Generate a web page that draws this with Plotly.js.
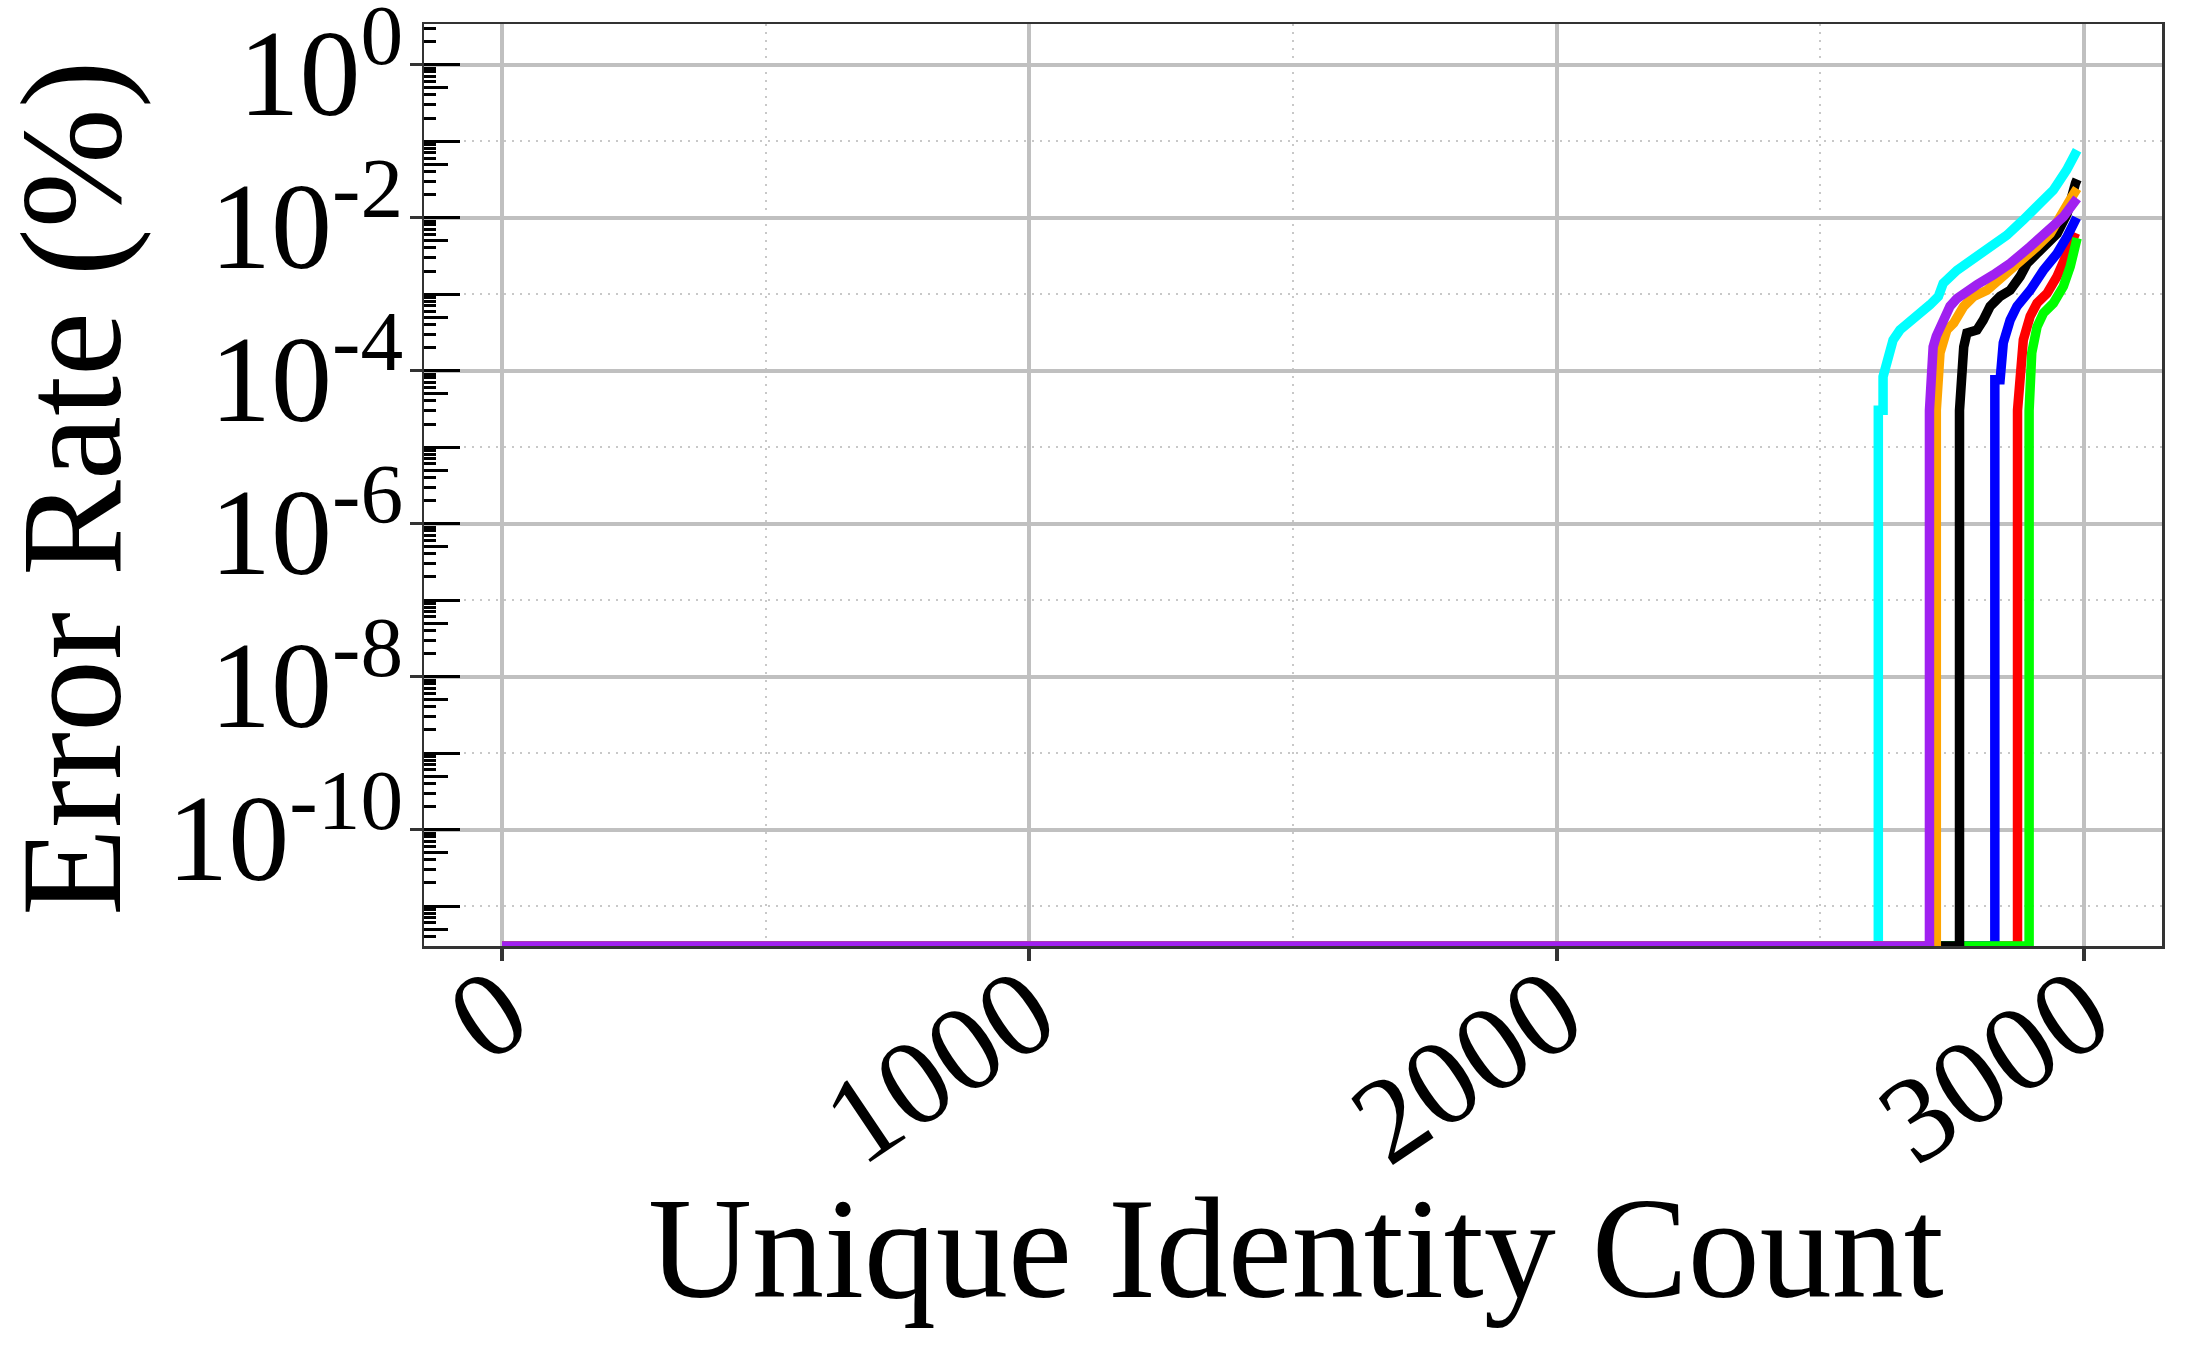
<!DOCTYPE html>
<html>
<head>
<meta charset="utf-8">
<script src="https://cdn.plot.ly/plotly-3.0.1.min.js"></script>
<style>html,body{margin:0;padding:0;background:#fff;}#chart{width:2187px;height:1350px;}</style>
</head>
<body>
<div id="chart"></div>
<script>
// Floor value used for identities with zero error (drawn at the bottom of the log axis)
const FLOOR = 3.0e-12;

const cyanX   = [0, 2610, 2610, 2619, 2619, 2626, 2638, 2651, 2668, 2683, 2708, 2724, 2733, 2759, 2797, 2822, 2854, 2885, 2917, 2942, 2967, 2987];
const cyanY   = [FLOOR, FLOOR, 3.02e-5, 3.02e-5, 8.3e-5, 1.26e-4, 2.51e-4, 3.39e-4, 4.17e-4, 5.13e-4, 7.24e-4, 9.33e-4, 1.38e-3, 2.04e-3, 3.09e-3, 4.17e-3, 5.89e-3, 9.33e-3, 0.0155, 0.0229, 0.0417, 0.0759];

const redX    = [0, 2874, 2874, 2879, 2885, 2898, 2911, 2930, 2949, 2968, 2980, 2984];
const redY    = [FLOOR, FLOOR, 3.02e-5, 1.38e-4, 2.51e-4, 5.13e-4, 7.59e-4, 1.02e-3, 1.70e-3, 3.39e-3, 5.62e-3, 6.31e-3];

const blueX   = [0, 2831, 2831, 2841, 2847, 2860, 2873, 2898, 2923, 2949, 2968, 2980, 2986];
const blueY   = [FLOOR, FLOOR, 7.59e-5, 7.59e-5, 2.29e-4, 4.57e-4, 6.92e-4, 1.12e-3, 2.04e-3, 3.39e-3, 5.62e-3, 8.32e-3, 0.0100];

const greenX  = [0, 2896, 2896, 2897, 2901, 2911, 2923, 2942, 2961, 2974, 2983, 2987];
const greenY  = [FLOOR, FLOOR, 3.02e-5, 6.76e-5, 1.70e-4, 3.72e-4, 5.62e-4, 7.59e-4, 1.26e-3, 2.29e-3, 3.80e-3, 5.37e-3];

const blackX  = [0, 2764, 2764, 2766, 2772, 2778, 2797, 2809, 2822, 2841, 2860, 2879, 2892, 2911, 2930, 2949, 2968, 2977, 2984, 2987];
const blackY  = [FLOOR, FLOOR, 3.02e-5, 8.32e-5, 2.04e-4, 3.09e-4, 3.39e-4, 4.57e-4, 6.92e-4, 9.33e-4, 1.12e-3, 1.70e-3, 2.51e-3, 3.39e-3, 4.57e-3, 6.17e-3, 0.0112, 0.0229, 0.0282, 0.0316];

const orangeX = [0, 2720, 2720, 2722, 2727, 2740, 2753, 2772, 2791, 2816, 2847, 2885, 2911, 2936, 2961, 2977, 2987];
const orangeY = [FLOOR, FLOOR, 3.02e-5, 7.59e-5, 1.70e-4, 3.39e-4, 4.17e-4, 6.92e-4, 9.33e-4, 1.12e-3, 1.70e-3, 2.82e-3, 4.17e-3, 6.17e-3, 0.0112, 0.0186, 0.0240];

const purpleX = [0, 2707, 2707, 2710, 2714, 2720, 2727, 2737, 2746, 2759, 2772, 2797, 2828, 2860, 2898, 2936, 2961, 2987];
const purpleY = [FLOOR, FLOOR, 3.02e-5, 7.94e-5, 2.04e-4, 2.82e-4, 3.72e-4, 5.25e-4, 6.92e-4, 8.71e-4, 1.02e-3, 1.32e-3, 1.78e-3, 2.51e-3, 4.17e-3, 6.92e-3, 0.0102, 0.0178];

const xTickVals = [0, 1000, 2000, 3000];
const xMinorVals = [500, 1500, 2500];
const yTickVals = [1, 1e-2, 1e-4, 1e-6, 1e-8, 1e-10];
const yTickText = ['10<sup>0</sup>', '10<sup>-2</sup>', '10<sup>-4</sup>', '10<sup>-6</sup>', '10<sup>-8</sup>', '10<sup>-10</sup>'];
const yMinorGridVals = [1e-1, 1e-3, 1e-5, 1e-7, 1e-9, 1e-11];

const xTitle = 'Unique Identity Count';
const yTitle = 'Error Rate (%)';

const X_RANGE = [-148, 3148];
const Y_RANGE = [Math.log10(FLOOR), 0.53];

// tick mark positions for the inside ticks (decades, 5x, other mantissas)
const decadeTicks = [], fiveTicks = [], otherTicks = [];
for (let k = -12; k <= 0; k++) {
  decadeTicks.push(Math.pow(10, k));
  fiveTicks.push(5 * Math.pow(10, k));
  [2, 3, 4, 6, 7, 8, 9].forEach(m => otherTicks.push(m * Math.pow(10, k)));
}

const series = [
  {x: cyanX, y: cyanY, c: '#00ffff'},
  {x: redX, y: redY, c: '#ff0000'},
  {x: blueX, y: blueY, c: '#0000ff'},
  {x: greenX, y: greenY, c: '#00ff00'},
  {x: blackX, y: blackY, c: '#000000'},
  {x: orangeX, y: orangeY, c: '#ffa500'},
  {x: purpleX, y: purpleY, c: '#a020f0'}
];

const traces = series.map(s => ({
  type: 'scatter', mode: 'lines', x: s.x, y: s.y,
  line: {color: s.c, width: 9.5, shape: 'linear'},
  showlegend: false, hoverinfo: 'skip'
}));
['y2', 'y3', 'y4'].forEach(a => traces.push({type: 'scatter', mode: 'lines', x: [], y: [], yaxis: a, showlegend: false, hoverinfo: 'skip'}));

const FONT = 'Liberation Serif, Times New Roman, serif';

function insideAxis(vals, len) {
  return {
    type: 'log', range: Y_RANGE, autorange: false, overlaying: 'y', anchor: 'x', side: 'left',
    tickmode: 'array', tickvals: vals, ticks: 'inside', ticklen: len, tickwidth: 3, tickcolor: '#000',
    showticklabels: false, showgrid: false, zeroline: false, showline: false
  };
}

const layout = {
  width: 2187, height: 1350,
  paper_bgcolor: '#ffffff', plot_bgcolor: '#ffffff',
  margin: {l: 424, r: 25, t: 24, b: 404},
  font: {family: FONT, color: '#000'},
  showlegend: false,
  xaxis: {
    range: X_RANGE, autorange: false,
    tickmode: 'array', tickvals: xTickVals, ticktext: xTickVals.map(String),
    tickangle: -34, tickfont: {size: 122, family: FONT, color: '#000'},
    ticks: 'outside', ticklen: 12, tickwidth: 4, tickcolor: '#333',
    ticklabeloverflow: 'allow', ticklabelstandoff: -65,
    showgrid: true, gridcolor: '#c0c0c0', gridwidth: 4,
    minor: {tickmode: 'array', tickvals: xMinorVals, showgrid: true, gridcolor: '#c8c8c8', gridwidth: 2, griddash: '2px,6px', ticks: ''},
    showline: true, linecolor: '#333', linewidth: 2.5, mirror: true, zeroline: false
  },
  yaxis: {
    type: 'log', range: Y_RANGE, autorange: false,
    tickmode: 'array', tickvals: yTickVals, ticktext: yTickText,
    tickfont: {size: 122, family: FONT, color: '#000'},
    ticks: 'outside', ticklen: 12, tickwidth: 3, tickcolor: '#333',
    ticklabeloverflow: 'allow', ticklabelstandoff: -18, ticklabelshift: 8,
    showgrid: true, gridcolor: '#c0c0c0', gridwidth: 4,
    minor: {tickmode: 'array', tickvals: yMinorGridVals, showgrid: true, gridcolor: '#c8c8c8', gridwidth: 2, griddash: '2px,6px', ticks: ''},
    showline: true, linecolor: '#333', linewidth: 2.5, mirror: true, zeroline: false
  },
  yaxis2: insideAxis(decadeTicks, 36),
  yaxis3: insideAxis(fiveTicks, 24),
  yaxis4: insideAxis(otherTicks, 12),
  annotations: [
    {text: xTitle, xref: 'paper', yref: 'paper', x: 0.502, y: -0.328, xanchor: 'center', yanchor: 'middle',
     showarrow: false, font: {size: 144, family: FONT, color: '#000'}},
    {text: yTitle, xref: 'paper', yref: 'paper', x: -0.2032, y: 0.4967, xanchor: 'center', yanchor: 'middle',
     textangle: -90, showarrow: false, font: {size: 144, family: FONT, color: '#000'}}
  ]
};

Plotly.newPlot('chart', traces, layout, {staticPlot: true, displayModeBar: false});
</script>
</body>
</html>
